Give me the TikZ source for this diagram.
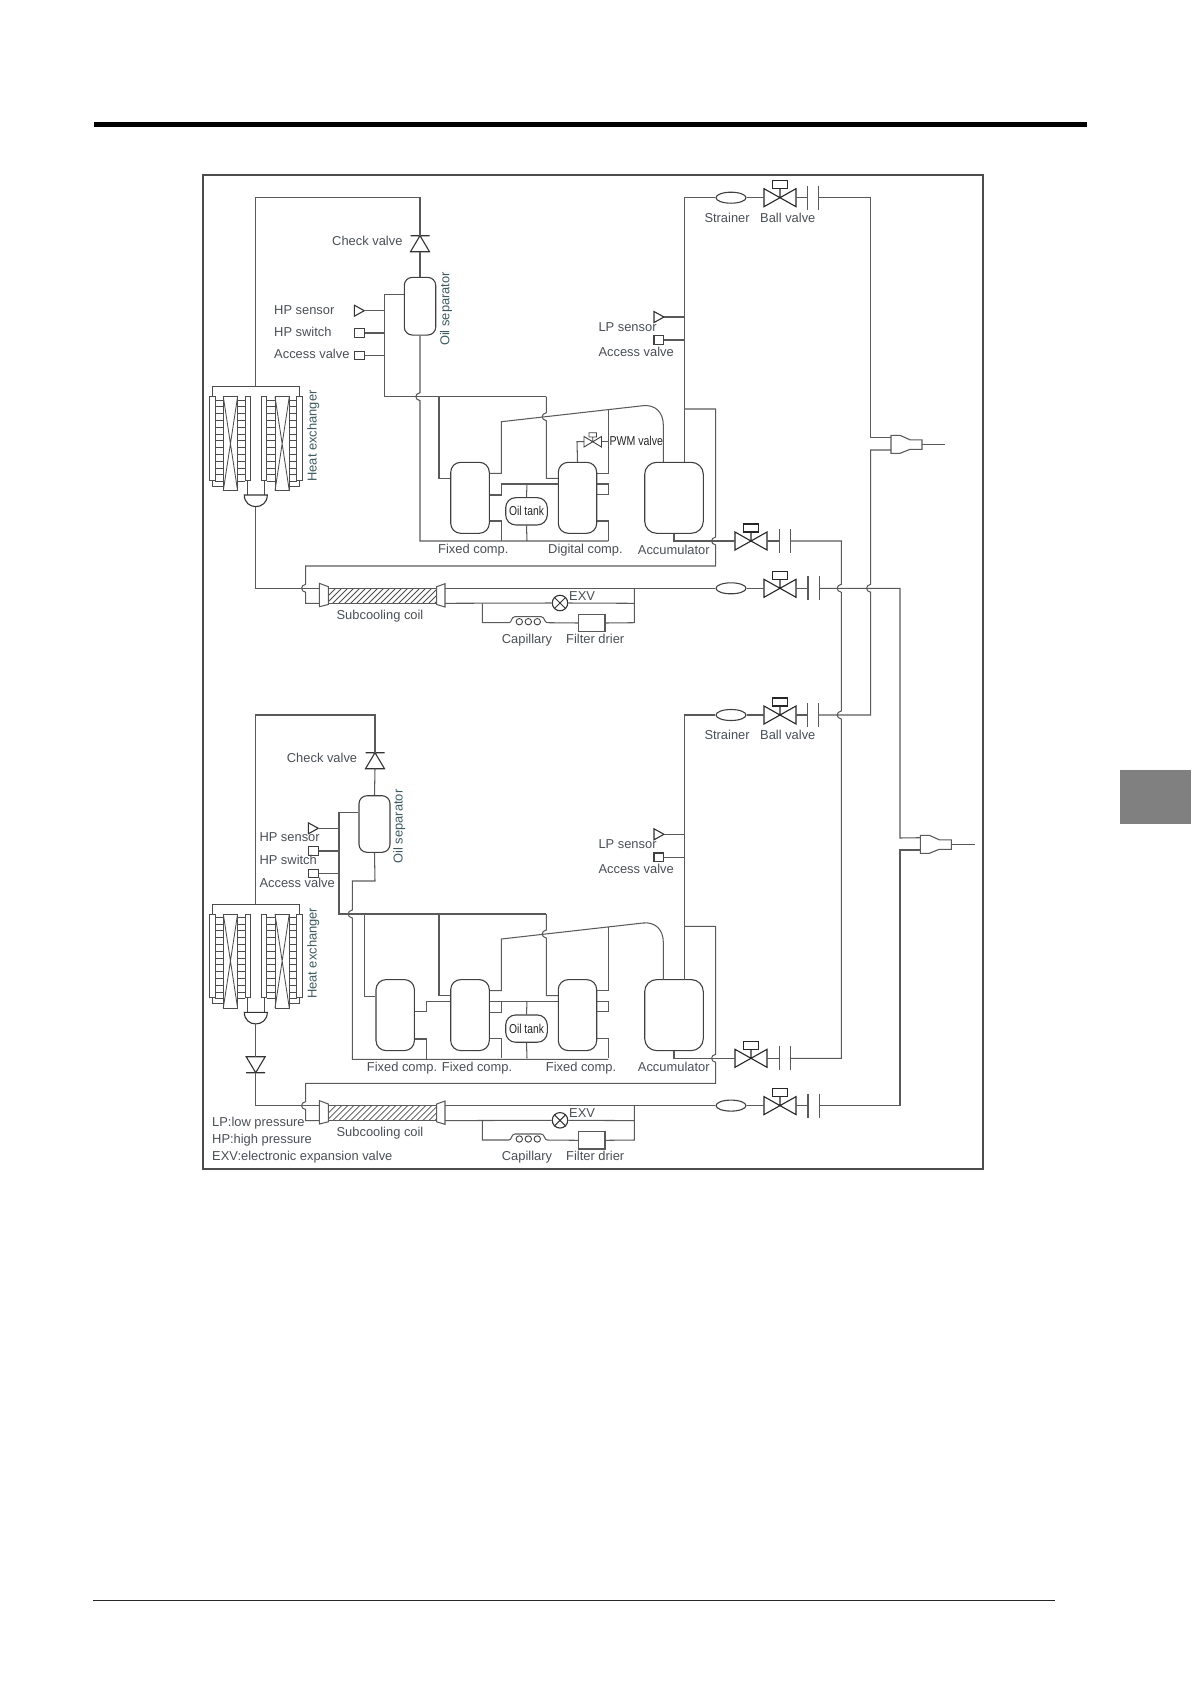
\documentclass[tikz,border=0pt]{standalone}
\usepackage{fontspec}
\setmainfont{Liberation Sans}
\usetikzlibrary{calc,shapes.geometric}
\definecolor{pipe}{HTML}{5A5A5A}
\definecolor{txt}{HTML}{4A4F55}
\definecolor{txtr}{HTML}{3F5A5E}
\tikzset{
  pipeline/.style={draw=pipe,line width=1.05pt,line join=miter},
  vessel/.style={draw=black!75,line width=1.1pt,rectangle,inner sep=0pt,rounded corners=10pt,fill=white},
  strainerbody/.style={draw=black!75,line width=1.1pt,ellipse,inner sep=0pt,minimum width=30pt,minimum height=11pt,fill=white},
  smallbox/.style={draw=black!75,line width=1.1pt,rectangle,inner sep=0pt,minimum width=9.5pt,minimum height=8.6pt,fill=white},
  lbl/.style={text=txt,inner sep=0pt,anchor=west,font=\fontsize{12.9}{14}\selectfont},
  lblc/.style={lbl,anchor=center},
  lblr/.style={text=txtr,inner sep=0pt,rotate=90,font=\fontsize{12.9}{14}\selectfont},
  ballvalve/.pic={
    \draw[black!85,line width=1.1pt] (-16,-9)--(16,9)--(16,-9)--(-16,9)--cycle (0,0)--(0,-9);
    \draw[black!85,line width=1.1pt] (-7.8,-17) rectangle (7.8,-9);
    \coordinate (-w) at (-16,0); \coordinate (-e) at (16,0);
  },
  flangepair/.pic={
    \draw[pipe,line width=1.1pt] (0,-12)--(0,12) (11.3,-12)--(11.3,12);
    \coordinate (-w) at (0,0); \coordinate (-e) at (11.3,0);
  },
  sensorhead/.pic={
    \draw[black!80,line width=1.1pt] (0,-5.5)--(10,0)--(0,5.5)--cycle;
    \coordinate (-e) at (10,0);
  },
  checkup/.pic={
    \draw[black!80,line width=1.1pt] (-9.5,0)--(9.5,0) (0,0)--(-9.5,16)--(9.5,16)--cycle;
    \coordinate (-top) at (0,0); \coordinate (-bot) at (0,16);
  },
  checkdown/.pic={
    \draw[black!80,line width=1.1pt] (-9.5,0)--(9.5,0) (0,0)--(-9.5,-16)--(9.5,-16)--cycle;
    \coordinate (-top) at (0,-16); \coordinate (-bot) at (0,0);
  },
  reducer/.pic={
    \draw[pipe,line width=1.1pt] (0,-9)--(9,-9)--(19,-4.5)--(31,-4.5)--(31,5)--(19,5)--(9,9)--(0,9)--cycle;
    \coordinate (-a) at (0,-6.6); \coordinate (-b) at (0,5.7); \coordinate (-o) at (31,0);
  },
}
\def\VJ#1#2{-- (#1,#2-4) .. controls (#1-5.5,#2-3) and (#1-5.5,#2+3) .. (#1,#2+4)}
% heat exchanger block, subcooling line, compressors 1 and 2, accumulator, valves
\newcommand{\unitparts}[1]{%
  % heat exchanger
  \begin{scope}[line width=0.85pt,draw=black!70]
    \draw (212,396.7)--(212,386.7)--(299.3,386.7)--(299.3,396.7);
    \foreach \dx in {0,51.7}{
      \draw (209.3+\dx,396.7) rectangle (215+\dx,480);
      \draw (223.3+\dx,396.7) rectangle (237.6+\dx,490.7);
      \draw (223.3+\dx,396.7)--(237.6+\dx,490.7) (237.6+\dx,396.7)--(223.3+\dx,490.7);
      \draw (245+\dx,396.7) rectangle (250.7+\dx,480);
      \foreach \r in {0,1,...,12}{
        \draw (215+\dx,400+6.8*\r)--(223.3+\dx,400+6.8*\r) (237.6+\dx,400+6.8*\r)--(245+\dx,400+6.8*\r);
      }
    }
    \draw (212,480)--(212,486)--(223.3,486) (299.3,480)--(299.3,486)--(289.3,486);
    \draw (247.3,480)--(247.3,495) (264,480)--(264,495);
  \end{scope}
  \draw[draw=black!80,line width=1.1pt] (244.3,495)--(267.3,495) .. controls (267.3,510.5) and (244.3,510.5) .. (244.3,495)--cycle;
  \coordinate (dome#1) at (255.7,506.7);
  \coordinate (hxtop#1) at (255.7,386.7);
  \node[lblr] (hxl#1) at (313.3,436) {Heat exchanger};
  % subcooling coil
  \begin{scope}
    \clip (328.3,588.3) rectangle (436.7,603.3);
    \foreach \h in {320,326,...,440}{
      \draw[black!70,line width=0.8pt] (\h,604)--(\h+16,588);
    }
  \end{scope}
  \draw[pipeline] (328.3,588.3) rectangle (436.7,603.3);
  \draw[pipeline] (319.3,583.3)--(328.3,586.7)--(328.3,604.5)--(319.3,606.7)--cycle;
  \draw[pipeline] (445,583.7)--(436.7,586.7)--(436.7,604.5)--(445,607)--cycle;
  \coordinate (scin#1) at (319.3,588.3);
  \coordinate (scret#1) at (319.3,603.3);
  \coordinate (scout#1) at (445,588.3);
  \coordinate (scexv#1) at (445,603.3);
  \node[lblc] (scl#1) at (380,616) {Subcooling coil};
  % EXV, capillary, filter drier
  \node[draw=black!80,line width=1.1pt,circle,minimum size=15.5pt,inner sep=0pt,fill=white] (exv#1) at (560,603) {};
  \draw[black!80,line width=1pt] (exv#1.north west)--(exv#1.south east) (exv#1.north east)--(exv#1.south west);
  \node[lbl] (exvl#1) at (569,595.7) {EXV};
  \node[smallbox,draw=black!65,minimum width=26.3pt,minimum height=17.4pt] (fd#1) at (591.8,623) {};
  \node[lbl] (fdl#1) at (566,639) {Filter drier};
  \node[lblc] (capl#1) at (527,640) {Capillary};
  \draw[pipeline] (scexv#1)--(exv#1.west) (exv#1.east)--(634.3,603.3);
  \draw[pipeline] (634.3,588.3)--(634.3,622.7)--(fd#1.east);
  \draw[pipeline] (fd#1.west)--(547.3,622.7) .. controls (544,622.7) and (545,616.7) .. (541,616.7)
     --(515,616.7) .. controls (511,616.7) and (512,622.7) .. (509,622.7)--(482.3,622.7)--(482.3,603.3);
  \foreach \c in {519.3,528.3,537.3}{\draw[black!75,line width=0.9pt] (\c,621.7) circle (3.2);}
  % return valves
  \node[strainerbody] (stl#1) at (731,588.3) {};
  \pic (bvl#1) at (780,588.3) {ballvalve};
  \pic (fll#1) at (808,588.3) {flangepair};
  \draw[pipeline] (scout#1)--(stl#1.west) (stl#1.east)--(bvl#1-w) (bvl#1-e)--(fll#1-w);
  % suction line valves
  \node[strainerbody] (sts#1) at (731,197.7) {};
  \pic (bvs#1) at (780,197.7) {ballvalve};
  \pic (fls#1) at (807.5,197.7) {flangepair};
  \draw[pipeline] (sts#1.east)--(bvs#1-w) (bvs#1-e)--(fls#1-w);
  \node[lbl] (stsl#1) at (704.3,217.7) {Strainer};
  \node[lbl] (bvsl#1) at (760,217.7) {Ball valve};
  % accumulator
  \node[vessel,rounded corners=12pt,minimum width=58.6pt,minimum height=71pt] (acc#1) at (674,497.8) {};
  \node[lbl] (accl#1) at (637.7,550) {Accumulator};
  \draw[pipeline] (sts#1.west)--(684.3,197.7)--(684.3,462.3);
  % gas valve
  \pic (bvb#1) at (751,541) {ballvalve};
  \pic (flb#1) at (779.3,541) {flangepair};
  \draw[pipeline] (acc#1.south)--(acc#1.south |- bvb#1-w)--(bvb#1-w) (bvb#1-e)--(flb#1-w);
  % bypass and subcool return
  \draw[pipeline] (684.3,409)--(715.7,409) \VJ{715.7}{541} --(715.7,566)--(305.7,566) \VJ{305.7}{588.3} --(305.7,603.3)--(scret#1);
  % LP sensor and access valve
  \pic (lps#1) at (654,317) {sensorhead};
  \draw[pipeline] (lps#1-e)--(684.3,317);
  \node[smallbox] (lpa#1) at (658.7,340) {};
  \draw[pipeline] (lpa#1.east)--(684.3,340);
  \node[lbl] (lpsl#1) at (598.3,327.2) {LP sensor};
  \node[lbl] (lpal#1) at (598.3,351.7) {Access valve};
  % compressors
  \node[vessel,minimum width=38.6pt,minimum height=71pt] (cpa#1) at (470,497.8) {};
  \node[vessel,minimum width=38.4pt,minimum height=71pt] (cpb#1) at (577.5,497.8) {};
  \node[vessel,minimum width=41.6pt,minimum height=27.3pt] (tank#1) at (526.5,511.3) {};
  \node[text=black!85,inner sep=0pt,font=\fontsize{12.9}{14}\selectfont] (tankl#1) at (526.5,511.3) {\scalebox{0.8}[1]{Oil tank}};
  \draw[pipeline] (439,396.7)--(439,478.3)--(cpa#1.west |- 0,478.3);
  \draw[pipeline] (546.3,396.7) \VJ{546.3}{416.7} --(546.3,478.3)--(cpb#1.west |- 0,478.3);
  \draw[pipeline] (cpa#1.east |- 0,473.3)--(501.3,473.3)--(501.3,421.7)--(643,405.7)
      .. controls (655,404.4) and (663.3,412) .. (663.3,425)--(663.3,462.3);
  \draw[pipeline] (cpb#1.east |- 0,473.3)--(608.3,473.3)--(608.3,409.6);
  \draw[pipeline] (cpa#1.east |- 0,495)--(501.3,495)--(501.3,484)--(cpb#1.west |- 0,484);
  \draw[pipeline] (527,484)--(tank#1.north) (tank#1.south)--(527,541);
  \draw[pipeline] (cpa#1.east |- 0,521)--(501.3,521)--(501.3,541);
  \draw[pipeline] (cpb#1.east |- 0,484)--(608.3,484)--(608.3,494.3)--(cpb#1.east |- 0,494.3);
  \draw[pipeline] (cpb#1.east |- 0,521)--(608.3,521)--(608.3,541);
}
\begin{document}
\begin{tikzpicture}[x=1pt,y=-1pt]
\useasboundingbox (0,0) rectangle (1191,1683);
% page furniture
\fill[black] (94,122) rectangle (1087,127);
\draw[black!85,line width=1pt] (93,1600.5)--(1055,1600.5);
\fill[black!50] (1120,770) rectangle (1191,824);
\draw[black!70,line width=1.1pt] (203,175) rectangle (983,1169);
% common parts of both outdoor units
\begin{scope}
  \unitparts{A}
\end{scope}
\begin{scope}[shift={(0,517.3)}]
  \unitparts{B}
\end{scope}
% ---- upper unit
\pic (cvA) at (420,235.7) {checkup};
\node[vessel,rounded corners=8pt,minimum width=31.4pt,minimum height=57.7pt] (sepA) at (420,306.2) {};
\draw[pipeline] (hxtopA)--(255.7,197.7)--(420,197.7)--(cvA-top);
\draw[pipeline] (cvA-bot)--(sepA.north);
\draw[pipeline] (sepA.south) \VJ{420}{396.7} --(420,541)--(608.3,541);
\draw[pipeline] (sepA.west |- 0,294.3)--(384.7,294.3)--(384.7,396.7)--(546.3,396.7);
\pic (hpsA) at (354.3,310.7) {sensorhead};
\draw[pipeline] (hpsA-e)--(384.7,310.7);
\node[smallbox] (hpwA) at (359.3,333) {};
\draw[pipeline] (hpwA.east)--(384.7,333);
\node[smallbox] (hpaA) at (359.3,355.5) {};
\draw[pipeline] (hpaA.east)--(384.7,355.5);
\draw[pipeline] (domeA)--(255.7,588.3)--(scinA);
\node[lbl] at (332,241) (l1) {Check valve};
\node[lbl] at (274,309.7) (l2) {HP sensor};
\node[lbl] at (274,332.3) (l3) {HP switch};
\node[lbl] at (274,354) (l4) {Access valve};
\node[lblr] at (446,309) (l5) {Oil separator};
\node[lbl] at (438,550) (l6) {Fixed comp.};
\node[lbl] at (548,550) (l7) {Digital comp.};
% PWM valve
\node[inner sep=0pt] (pwmc) at (592.7,441.7) {};
\draw[pipeline] (cpbA.north)--(577,441.7)--(584,441.7);
\draw[black!75,line width=0.9pt] (584,436.5)--(601.5,447)--(601.5,436.5)--(584,447)--cycle (pwmc.center)--(592.7,437) (589,432.7) rectangle (596.5,437);
\draw[pipeline] (601.5,441.7)--(608.3,441.7);
\node[lbl,text=black!85] at (609.3,441) (l8) {\scalebox{0.82}[1]{PWM valve}};
% ---- lower unit
\pic (cvB) at (375,752.7) {checkup};
\node[vessel,rounded corners=8pt,minimum width=31pt,minimum height=56.6pt] (sepB) at (374.5,824) {};
\draw[pipeline] (hxtopB)--(255.7,715)--(375,715)--(cvB-top);
\draw[pipeline] (cvB-bot)--(sepB.north);
\draw[pipeline] (sepB.south)--(375,881)--(352.3,881) \VJ{352.3}{914} --(352.3,1059.3)--(608.3,1059.3);
\draw[pipeline] (sepB.west |- 0,812.3)--(339,812.3)--(339,914)--(546.3,914);
\pic (hpsB) at (308.3,828.3) {sensorhead};
\draw[pipeline] (hpsB-e)--(339,828.3);
\node[smallbox] (hpwB) at (313.3,851) {};
\draw[pipeline] (hpwB.east)--(339,851);
\node[smallbox] (hpaB) at (313.3,873.5) {};
\draw[pipeline] (hpaB.east)--(339,873.5);
\pic (cvC) at (255.7,1072.7) {checkdown};
\draw[pipeline] (domeB)--(cvC-top) (cvC-bot)--(255.7,1105.6)--(scinB);
% third compressor
\node[vessel,minimum width=38.4pt,minimum height=71pt] (cpc) at (395.2,1015.1) {};
\draw[pipeline] (364.3,914)--(364.3,996.7)--(cpc.west |- 0,996.7);
\draw[pipeline] (cpc.east |- 0,1011.7)--(426.7,1011.7)--(426.7,1001.3)--(cpaB.west |- 0,1001.3);
\draw[pipeline] (cpc.east |- 0,1039)--(426.7,1039)--(426.7,1059.3);
\draw[pipeline] (cpaB.east |- 0,1001.3)--(501.3,1001.3);
\node[lbl] at (286.7,758.3) (m1) {Check valve};
\node[lbl] at (259.3,837.3) (m2) {HP sensor};
\node[lbl] at (259.3,860.3) (m3) {HP switch};
\node[lbl] at (259.3,883.3) (m4) {Access valve};
\node[lblr] at (399.3,826.5) (m5) {Oil separator};
\node[lbl] at (366.7,1067.7) (m6) {Fixed comp.};
\node[lbl] at (441.7,1067.7) (m7) {Fixed comp.};
\node[lbl] at (545.7,1067.7) (m8) {Fixed comp.};
\node[lbl] at (212,1123.3) (m9) {LP:low pressure};
\node[lbl] at (212,1140) (m10) {HP:high pressure};
\node[lbl] at (212,1157.3) (m11) {EXV:electronic expansion valve};
% ---- headers on the right
\pic (redA) at (891,444.3) {reducer};
\pic (redB) at (920.3,844.3) {reducer};
\coordinate (outA) at (945,444.3);
\coordinate (outB) at (975,844.3);
\draw[pipeline] (redA-o)--(outA);
\draw[pipeline] (redB-o)--(outB);
\draw[pipeline] (flsA-e)--(870.7,197.7)--(870.7,437.7)--(redA-a);
\draw[pipeline] (redA-b)--(870.7,450) \VJ{870.7}{588.3} --(870.7,715)--(flsB-e);
\draw[pipeline] (flbA-e)--(841.3,541) \VJ{841.3}{588.3} \VJ{841.3}{715} --(841.3,1058.3)--(flbB-e);
\draw[pipeline] (fllA-e)--(900,588.3)--(900,838)--(redB-a);
\draw[pipeline] (redB-b)--(900,850)--(900,1105.6)--(fllB-e);
\end{tikzpicture}
\end{document}
